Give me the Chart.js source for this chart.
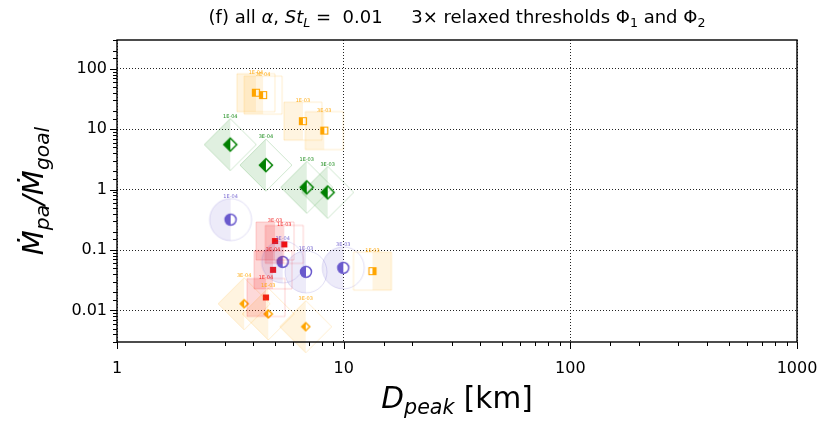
<!DOCTYPE html>
<html><head><meta charset="utf-8">
<script src="https://cdn.jsdelivr.net/npm/chart.js@4/dist/chart.umd.min.js"></script>
<style>html,body{margin:0;padding:0;background:#fff}#wrap{width:830px;height:427px}</style>
</head><body><div id="wrap"><canvas id="c" width="830" height="427"></canvas></div>
<script>
// ---- data ----
const orangeSqX = [4.10, 4.41, 6.61, 8.21];
const orangeSqY = [40.2, 36.7, 13.6, 9.48];
const orangeSqLab = ['1E-04', '3E-04', '1E-03', '3E-03'];
const orangeSq2X = [13.4];
const orangeSq2Y = [0.0447];
const orangeSq2Lab = ['1E-03'];
const greenX = [3.16, 4.54, 6.87, 8.50];
const greenY = [5.57, 2.54, 1.09, 0.90];
const greenLab = ['1E-04', '3E-04', '1E-03', '3E-03'];
const purpleX = [3.17, 5.38, 6.82, 9.96];
const purpleY = [0.318, 0.0636, 0.0435, 0.0507];
const purpleLab = ['1E-04', '3E-04', '1E-03', '3E-03'];
const redX = [4.98, 5.47, 4.88, 4.54];
const redY = [0.141, 0.124, 0.047, 0.0164];
const redLab = ['3E-03', '1E-03', '3E-04', '1E-04'];
const orDiaX = [3.64, 4.65, 6.80];
const orDiaY = [0.0129, 0.00873, 0.00538];
const orDiaLab = ['3E-04', '1E-03', '3E-03'];
const xTickLabels = {1: '1', 10: '10', 100: '100', 1000: '1000'};
const yTickLabels = {'-2': '0.01', '-1': '0.1', '0': '1', '1': '10', '2': '100'};

const FONT = '"DejaVu Sans", sans-serif';
function isPow10(v) { const l = Math.log10(v); return Math.abs(l - Math.round(l)) < 1e-6; }

function shapePath(ctx, shape, c, h) {
  ctx.beginPath();
  if (shape === 'square') ctx.rect(c - h, c - h, 2 * h, 2 * h);
  else if (shape === 'diamond') { ctx.moveTo(c, c - h); ctx.lineTo(c + h, c); ctx.lineTo(c, c + h); ctx.lineTo(c - h, c); ctx.closePath(); }
  else ctx.arc(c, c, h, 0, Math.PI * 2);
}
function makeBig(shape, half, rgb, side, fillA, lineA) {
  const H = Math.ceil(half) + 3;
  const cv = document.createElement('canvas'); cv.width = cv.height = 2 * H;
  const ctx = cv.getContext('2d'); const c = H;
  const col = a => `rgba(${rgb[0]},${rgb[1]},${rgb[2]},${a})`;
  ctx.save(); ctx.beginPath();
  if (side === 'left') ctx.rect(0, 0, c, 2 * H); else ctx.rect(c, 0, c, 2 * H);
  ctx.clip();
  shapePath(ctx, shape, c, half); ctx.fillStyle = col(fillA); ctx.fill();
  ctx.restore();
  shapePath(ctx, shape, c, half); ctx.strokeStyle = col(lineA); ctx.lineWidth = 1; ctx.stroke();
  return cv;
}
function makeSmall(shape, half, rgb, side, full, lw) {
  const H = Math.ceil(half) + 3;
  const cv = document.createElement('canvas'); cv.width = cv.height = 2 * H;
  const ctx = cv.getContext('2d'); const c = H;
  const col = `rgb(${rgb[0]},${rgb[1]},${rgb[2]})`;
  shapePath(ctx, shape, c, half);
  ctx.fillStyle = full ? col : '#fff'; ctx.fill();
  if (!full) {
    ctx.save(); ctx.beginPath();
    if (side === 'left') ctx.rect(0, 0, c, 2 * H); else ctx.rect(c, 0, c, 2 * H);
    ctx.clip();
    shapePath(ctx, shape, c, half); ctx.fillStyle = col; ctx.fill();
    ctx.restore();
  }
  shapePath(ctx, shape, c, half); ctx.strokeStyle = col; ctx.lineWidth = lw; ctx.stroke();
  return cv;
}

const ORANGE = [255, 165, 0], GREEN = [0, 128, 0], PURPLE = [106, 90, 205], RED = [240, 20, 20];

const series = [
  {x: orangeSqX, y: orangeSqY, lab: orangeSqLab, rgb: ORANGE, big: 'square', bh: 19, sm: 'square', sh: 3.5, side: 'left', full: false, off: 20},
  {x: orangeSq2X, y: orangeSq2Y, lab: orangeSq2Lab, rgb: ORANGE, big: 'square', bh: 19, sm: 'square', sh: 3.5, side: 'right', full: false, off: 20},
  {x: greenX, y: greenY, lab: greenLab, rgb: GREEN, big: 'diamond', bh: 26, sm: 'diamond', sh: 6.5, side: 'left', full: false, off: 28},
  {x: purpleX, y: purpleY, lab: purpleLab, rgb: PURPLE, big: 'circle', bh: 21, sm: 'circle', sh: 5.5, side: 'left', full: false, off: 23},
  {x: redX, y: redY, lab: redLab, rgb: RED, big: 'square', bh: 19, sm: 'square', sh: 2.5, side: 'left', full: true, off: 20},
  {x: orDiaX, y: orDiaY, lab: orDiaLab, rgb: ORANGE, big: 'diamond', bh: 26, sm: 'diamond', sh: 4, side: 'left', full: false, off: 28}
];

const datasets = [];
series.forEach(s => {
  datasets.push({
    data: s.x.map((v, i) => ({x: v, y: s.y[i]})),
    pointStyle: makeBig(s.big, s.bh, s.rgb, s.side, s.rgb === RED ? 0.16 : 0.12, 0.2),
    pointRadius: 10, clip: false
  });
});
series.forEach(s => {
  datasets.push({
    data: s.x.map((v, i) => ({x: v, y: s.y[i]})),
    pointStyle: makeSmall(s.sm, s.sh, s.rgb, s.side, s.full, s.sm === 'square' ? 1.2 : 1.5),
    pointRadius: 5, clip: false,
    lbl: s.lab, lblOff: s.off, lblColor: `rgba(${s.rgb[0]},${s.rgb[1]},${s.rgb[2]},0.9)`
  });
});

function drawRich(ctx, segs, size, cx, cy, rotate) {
  ctx.save();
  ctx.translate(cx, cy); if (rotate) ctx.rotate(-Math.PI / 2);
  let w = 0;
  const parts = segs.map(s => {
    const fs = s.sub ? size * 0.7 : size;
    const font = (s.it ? 'italic ' : '') + fs + 'px ' + FONT;
    ctx.font = font;
    const mw = ctx.measureText(s.t).width;
    w += mw;
    return {t: s.t, font, w: mw, dy: s.sub ? size * 0.2 : 0};
  });
  let x = -w / 2;
  ctx.textBaseline = 'alphabetic'; ctx.textAlign = 'left'; ctx.fillStyle = '#000';
  for (const p of parts) { ctx.font = p.font; ctx.fillText(p.t, x, p.dy); x += p.w; }
  ctx.restore();
}

const decor = {
  id: 'decor',
  afterDatasetsDraw(chart) {
    const ctx = chart.ctx;
    chart.data.datasets.forEach((ds, i) => {
      if (!ds.lbl) return;
      const meta = chart.getDatasetMeta(i);
      ctx.save();
      ctx.font = '5px ' + FONT; ctx.fillStyle = ds.lblColor;
      ctx.textAlign = 'center'; ctx.textBaseline = 'middle';
      meta.data.forEach((el, j) => ctx.fillText(ds.lbl[j], el.x, el.y - ds.lblOff));
      ctx.restore();
    });
  },
  afterDraw(chart) {
    const ctx = chart.ctx, a = chart.chartArea;
    const xs = chart.scales.x, ys = chart.scales.y;
    ctx.save();
    ctx.strokeStyle = '#000';
    ctx.lineWidth = 1;
    xs.ticks.forEach(t => {
      const p = Math.round(xs.getPixelForValue(t.value)) + 0.5;
      const len = isPow10(t.value) ? 7 : 4;
      ctx.beginPath(); ctx.moveTo(p, a.bottom); ctx.lineTo(p, a.bottom + len); ctx.stroke();
    });
    ys.ticks.forEach(t => {
      const p = Math.round(ys.getPixelForValue(t.value)) + 0.5;
      const len = isPow10(t.value) ? 7 : 4;
      ctx.beginPath(); ctx.moveTo(a.left, p); ctx.lineTo(a.left - len, p); ctx.stroke();
    });
    ctx.lineWidth = 1.4;
    ctx.strokeRect(a.left, a.top, a.right - a.left, a.bottom - a.top);
    ctx.restore();
    // title
    drawRich(ctx, [
      {t: '(f) all '}, {t: 'α', it: true}, {t: ', '}, {t: 'St', it: true}, {t: 'L', it: true, sub: true},
      {t: ' =  0.01     3× relaxed thresholds Φ'}, {t: '1', sub: true}, {t: ' and Φ'}, {t: '2', sub: true}
    ], 18, (a.left + a.right) / 2, 23, false);
    // x label
    drawRich(ctx, [{t: 'D', it: true}, {t: 'peak', it: true, sub: true}, {t: ' [km]'}], 29.5, (a.left + a.right) / 2, 408, false);
    // y label
    drawRich(ctx, [{t: 'Ṁ', it: true}, {t: 'pa', it: true, sub: true}, {t: '/', it: true}, {t: 'Ṁ', it: true}, {t: 'goal', it: true, sub: true}], 29, 43, (a.top + a.bottom) / 2, true);
  }
};

new Chart(document.getElementById('c'), {
  type: 'scatter',
  data: {datasets},
  options: {
    responsive: false, animation: false, devicePixelRatio: 1,
    layout: {padding: {top: 40, right: 33, left: 0, bottom: 0}},
    plugins: {legend: {display: false}, tooltip: {enabled: false}, title: {display: false}},
    scales: {
      x: {
        type: 'logarithmic', min: 1, max: 1000,
        afterFit(s) { s.height = 85; s.paddingLeft = 0; s.paddingRight = 0; },
        grid: {color: c => (c.tick && isPow10(c.tick.value)) ? '#222' : 'rgba(0,0,0,0)', lineWidth: 1, drawTicks: false},
        border: {display: false, dash: [1, 2]},
        ticks: {autoSkip: false, maxRotation: 0, padding: 17, color: '#000', font: {family: 'DejaVu Sans', size: 16},
          callback: v => isPow10(v) ? (xTickLabels[Math.round(v)] || '') : ''}
      },
      y: {
        type: 'logarithmic', min: 0.003, max: 300,
        afterFit(s) { s.width = 117; s.paddingTop = 0; s.paddingBottom = 0; },
        grid: {color: c => (c.tick && isPow10(c.tick.value)) ? '#222' : 'rgba(0,0,0,0)', lineWidth: 1, drawTicks: false},
        border: {display: false, dash: [1, 2]},
        ticks: {autoSkip: false, padding: 10, color: '#000', font: {family: 'DejaVu Sans', size: 16},
          callback: v => isPow10(v) ? (yTickLabels[String(Math.round(Math.log10(v)))] || '') : ''}
      }
    }
  },
  plugins: [decor]
});
</script>
</body></html>
